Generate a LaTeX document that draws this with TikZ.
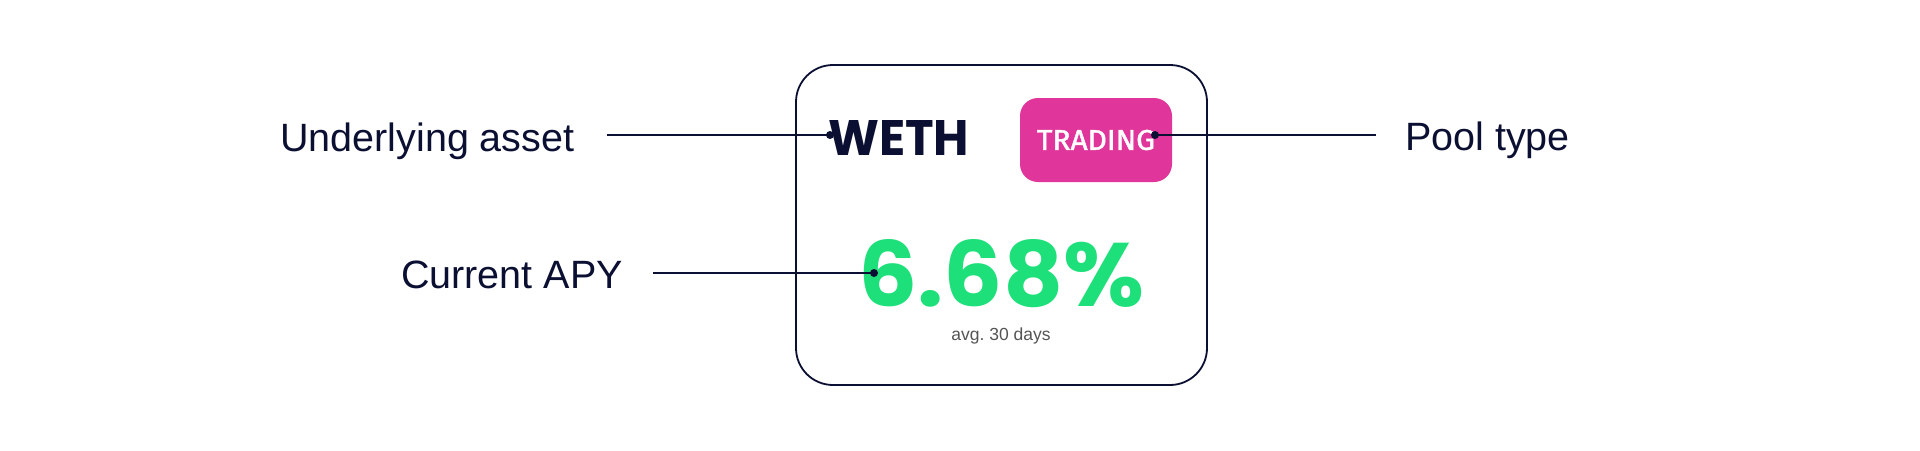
\documentclass[tikz,border=0pt]{standalone}
\usepackage{fontspec}
\setmainfont{Liberation Sans}
\newfontfamily\pop{Poppins}
\newfontfamily\fira{Fira Sans}[FakeBold=1.5]
\usepackage{graphicx}
\definecolor{navy}{HTML}{0B1033}
\definecolor{pinkc}{HTML}{E0359A}
\definecolor{greenc}{HTML}{1EE07A}
\definecolor{grayc}{HTML}{555555}
\begin{document}
\begin{tikzpicture}[x=1pt,y=-1pt,
  lbl/.style={anchor=base west,inner sep=0pt,text=navy,font=\fontsize{39.5}{40}\selectfont},
  conn/.style={draw=navy,line width=1.6pt},
  dotc/.style={circle,fill=navy,inner sep=0pt,minimum size=8pt},
  card/.style={draw=navy,line width=1.8pt,rounded corners=37pt}]
\useasboundingbox[fill=white] (0,0) rectangle (1920,450);
% card
\draw[card] (796,65) rectangle (1207,385);
% labels
\node[lbl] (ua) at (280,151) {Underlying asset};
\node[lbl] (apy) at (401,288) {Current APY};
\node[lbl] (pt) at (1405,150) {Pool type};
% card contents
\node[anchor=south west,inner sep=0pt,text=navy] (weth) at (828,156)
  {\resizebox{141pt}{35pt}{\pop\bfseries WETH}};
\node[fill=pinkc,rounded corners=18pt,minimum width=152pt,minimum height=84pt,inner sep=0pt,text=white] (trade) at (1096,140)
  {\resizebox{118pt}{20pt}{\fira TRADING}};
\node[anchor=south west,inner sep=0pt,text=greenc] (val) at (858,308)
  {\resizebox{286pt}{67pt}{\pop\bfseries 6.68\%}};
\node[text=grayc,inner sep=0pt,font=\fontsize{17.5}{18}\selectfont] (avg) at (1001,336) {avg.\ 30 days};
% dots
\node[dotc] (dw) at (830,135) {};
\node[dotc] (dt) at (1155,135) {};
\node[dotc] (dv) at (874,273) {};
% connectors
\draw[conn,shorten <=32pt] (ua.east |- dw) -- (dw.center);
\draw[conn,shorten <=30pt] (apy.east |- dv) -- (dv.center);
\draw[conn,shorten <=29pt] (pt.west |- dt) -- (dt.center);
\end{tikzpicture}
\end{document}
